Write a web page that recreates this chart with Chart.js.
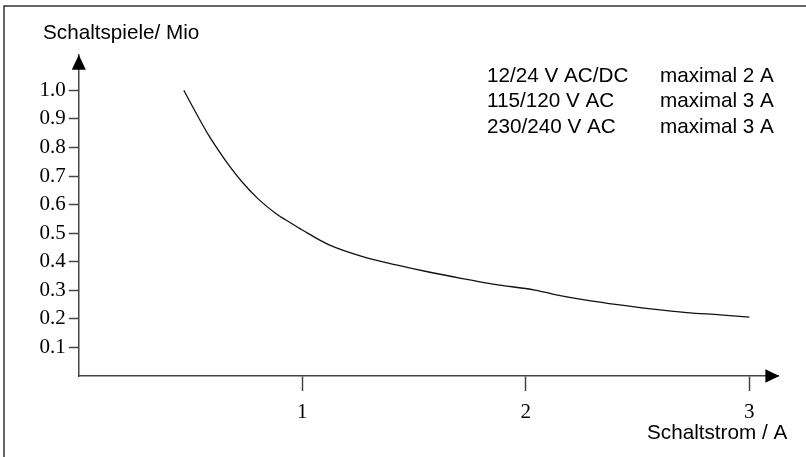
<!DOCTYPE html>
<html><head><meta charset="utf-8">
<script src="https://cdn.jsdelivr.net/npm/chart.js@4"></script>
<style>html,body{margin:0;padding:0;background:#fff}#wrap{width:806px;height:457px;position:relative}</style>
</head><body><div id="wrap"><canvas id="c" width="806" height="457"></canvas></div>
<script>
// Data
const currentA  = [0.47, 0.505, 0.58, 0.655, 0.73, 0.80, 0.88, 0.95, 1.0, 1.12, 1.27, 1.42, 1.56, 1.71, 1.86, 2.04, 2.12, 2.27, 2.42, 2.57, 2.72, 2.87, 3.0];
const cyclesMio = [1.0, 0.949, 0.844, 0.756, 0.680, 0.622, 0.570, 0.535, 0.511, 0.459, 0.418, 0.389, 0.365, 0.342, 0.321, 0.301, 0.287, 0.266, 0.249, 0.234, 0.222, 0.214, 0.206];
const yTickValues = [0.1, 0.2, 0.3, 0.4, 0.5, 0.6, 0.7, 0.8, 0.9, 1.0];
const xTickValues = [1, 2, 3];
const yAxisTitle = 'Schaltspiele/ Mio';
const xAxisTitle = 'Schaltstrom / A';
const voltageLabels = ['12/24 V AC/DC', '115/120 V AC', '230/240 V AC'];
const maxCurrentLabels = ['maximal 2 A', 'maximal 3 A', 'maximal 3 A'];

const SANS = '"Liberation Sans", Arial, sans-serif';
const SERIF = '"Liberation Serif", "Times New Roman", serif';
const AXIS = '#444';

const points = currentA.map((x, i) => ({ x: x, y: cyclesMio[i] }));

const decor = {
  id: 'decor',
  afterDraw(chart) {
    const ctx = chart.ctx;
    const a = chart.chartArea;
    ctx.save();
    // frame (left + top)
    ctx.strokeStyle = '#333';
    ctx.lineWidth = 1.5;
    ctx.beginPath();
    ctx.moveTo(4, 460);
    ctx.lineTo(4, 6);
    ctx.lineTo(810, 6);
    ctx.stroke();
    // arrows
    ctx.fillStyle = '#000';
    ctx.beginPath();
    ctx.moveTo(a.left, a.top);
    ctx.lineTo(a.left - 7, a.top + 15);
    ctx.lineTo(a.left + 7, a.top + 15);
    ctx.closePath();
    ctx.fill();
    ctx.beginPath();
    ctx.moveTo(a.right + 1, a.bottom);
    ctx.lineTo(a.right - 13, a.bottom - 6.7);
    ctx.lineTo(a.right - 13, a.bottom + 6.7);
    ctx.closePath();
    ctx.fill();
    // texts
    ctx.fillStyle = '#000';
    ctx.font = '20.7px ' + SANS;
    ctx.textBaseline = 'alphabetic';
    ctx.textAlign = 'left';
    ctx.fillText(yAxisTitle, 43, 39);
    ctx.fillText(xAxisTitle, 647, 439);
    voltageLabels.forEach((t, i) => {
      const y = 81.5 + i * 25.5;
      ctx.fillText(t, 487, y);
      ctx.fillText(maxCurrentLabels[i], 660, y);
    });
    ctx.restore();
  }
};

new Chart(document.getElementById('c'), {
  type: 'line',
  data: {
    datasets: [{
      data: points,
      borderColor: '#111',
      borderWidth: 1.3,
      pointRadius: 0,
      fill: false,
      cubicInterpolationMode: 'monotone'
    }]
  },
  options: {
    responsive: false,
    animation: false,
    devicePixelRatio: 1,
    layout: { padding: { left: 0, top: 54.7, right: 27.6, bottom: 0 } },
    plugins: { legend: { display: false }, tooltip: { enabled: false } },
    scales: {
      x: {
        type: 'linear',
        min: 0,
        max: 3.13,
        afterFit(s) { s.height = 81; },
        afterBuildTicks(s) { s.ticks = xTickValues.map(v => ({ value: v })); },
        border: { display: true, color: AXIS, width: 1.5 },
        grid: { display: true, drawOnChartArea: false, drawTicks: true, tickLength: 15, tickWidth: 1.5, tickColor: AXIS, color: AXIS },
        ticks: { autoSkip: false, maxRotation: 0, padding: 9, color: '#000', font: { family: SERIF, size: 21 }, callback: v => String(v) }
      },
      y: {
        type: 'linear',
        min: 0,
        max: 1.125,
        afterFit(s) { s.width = 78.8; },
        afterBuildTicks(s) { s.ticks = yTickValues.map(v => ({ value: v })); },
        border: { display: true, color: AXIS, width: 1.5 },
        grid: { display: true, drawOnChartArea: false, drawTicks: true, tickLength: 10, tickWidth: 1.5, tickColor: AXIS, color: AXIS },
        ticks: { autoSkip: false, padding: 3, color: '#000', font: { family: SERIF, size: 21 }, callback: v => Number(v).toFixed(1) }
      }
    }
  },
  plugins: [decor]
});
</script>
</body></html>
